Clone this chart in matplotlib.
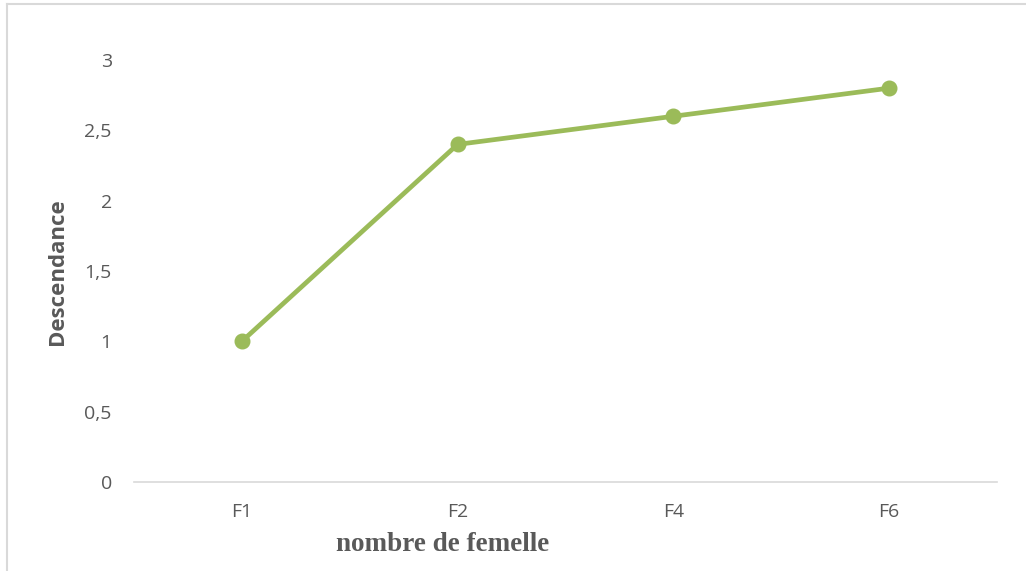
import matplotlib.pyplot as plt
from matplotlib.lines import Line2D
from matplotlib.ticker import FuncFormatter

# Descendance par nombre de femelles
categories = ["F1", "F2", "F4", "F6"]
descendance = [1.0, 2.4, 2.6, 2.8]
y_ticks = [0, 0.5, 1, 1.5, 2, 2.5, 3]

green = "#9BBB59"
grey_text = "#595959"
grey_line = "#D9D9D9"

fig = plt.figure(figsize=(10.26, 5.71), dpi=100)
ax = fig.add_axes([0.1306, 0.1559, 0.8411, 0.739])

x = range(len(categories))
ax.plot(x, descendance, color=green, linewidth=3.4, marker="o",
        markersize=10.5, solid_capstyle="round", zorder=3)

ax.set_xlim(-0.5, len(categories) - 0.5)
ax.set_ylim(0, 3)
ax.set_xticks(list(x))
ax.set_xticklabels(categories)
ax.set_yticks(y_ticks)
ax.yaxis.set_major_formatter(FuncFormatter(lambda v, p: f"{v:g}".replace(".", ",")))

for side in ["top", "right", "left"]:
    ax.spines[side].set_visible(False)
ax.spines["bottom"].set_color(grey_line)
ax.spines["bottom"].set_linewidth(1.2)
ax.tick_params(axis="both", length=0, labelsize=14, labelcolor=grey_text,
               labelfontfamily="Open Sans")
ax.tick_params(axis="y", pad=16)
ax.tick_params(axis="x", pad=15)

# axis titles placed in figure coordinates
fig.text(0.0565, 0.5245, "Descendance", rotation=90, ha="center", va="center",
         fontsize=16, fontweight="bold", color=grey_text, family="Open Sans")
fig.text(0.431, 0.046, "nombre de femelle", ha="center", va="center",
         fontsize=19.5, fontweight="bold", color=grey_text, family="Liberation Serif")

# chart frame
fig.add_artist(Line2D([0.0068, 0.0068], [0, 0.993], color=grey_line, linewidth=1.5,
                      transform=fig.transFigure))
fig.add_artist(Line2D([0.0068, 1.0], [0.993, 0.993], color=grey_line, linewidth=1.5,
                      transform=fig.transFigure))

fig.savefig("out.png", dpi=100)
